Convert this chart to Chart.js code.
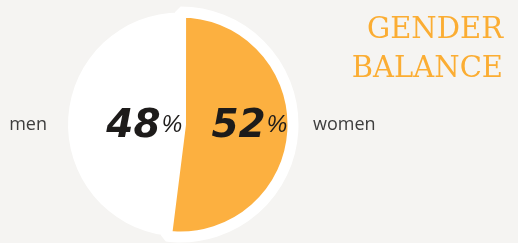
<!DOCTYPE html>
<html>
<head>
<meta charset="utf-8">
<script src="https://cdn.jsdelivr.net/npm/chart.js@4"></script>
<style>
  html, body { margin: 0; padding: 0; background: #f5f4f2; }
  #wrap { position: relative; width: 518px; height: 243px; }
  #title {
    position: absolute; right: 15px; top: 9px;
    font-family: "DejaVu Serif"; font-size: 29px; line-height: 39px;
    color: #fbad33; text-align: right;
  }
</style>
</head>
<body>
<div id="wrap">
  <canvas id="genderChart" width="518" height="243"></canvas>
  <div id="title">GENDER<br>BALANCE</div>
</div>
<script>
const categories = ['men', 'women'];
const shares = [48, 52];
const sliceColors = ['#ffffff', '#fcb040'];

// where the big numbers sit, as a fraction of the radius from the centre
const numberPos = [0.32, 0.62];

const sliceLabels = {
  id: 'sliceLabels',
  afterDatasetsDraw(chart) {
    const c = chart.ctx;
    const arcs = chart.getDatasetMeta(0).data;
    arcs.forEach(function (arc, i) {
      const p = arc.getProps(['x', 'y', 'startAngle', 'endAngle', 'outerRadius'], true);
      const mid = (p.startAngle + p.endAngle) / 2;
      const cx = p.x + Math.cos(mid) * p.outerRadius * numberPos[i];

      const num = String(shares[i]);
      const numFont = 'italic bold 39px "DejaVu Sans"';
      const pctFont = 'italic 23px "Liberation Sans"';
      c.save();
      c.font = numFont;
      const w1 = c.measureText(num).width;
      c.font = pctFont;
      const w2 = c.measureText('%').width;
      let sx = cx - (w1 + w2 + 1) / 2;
      c.fillStyle = '#1d1b1a';
      c.textAlign = 'left';
      c.textBaseline = 'alphabetic';
      c.font = numFont;
      c.fillText(num, sx, p.y + 12.5);
      c.font = pctFont;
      c.fillText('%', sx + w1 + 1, p.y + 7.5);

      // category name beside the pie
      const side = Math.cos(mid) < 0 ? -1 : 1;
      c.font = '18px "Open Sans"';
      c.fillStyle = '#3d3d3d';
      c.textAlign = side < 0 ? 'right' : 'left';
      c.fillText(categories[i], p.x + side * (p.outerRadius + 21), p.y + 5);
      c.restore();
    });
  }
};

var ctx = document.getElementById('genderChart');
var genderChart = new Chart(ctx, {
  type: 'pie',
  data: {
    labels: categories,
    datasets: [{
      data: shares,
      backgroundColor: sliceColors,
      borderColor: '#ffffff',
      borderWidth: [0, 11],
      offset: [0, 2]
    }]
  },
  options: {
    responsive: false,
    animation: false,
    events: [],
    // men runs up to 12 o'clock, women starts there
    rotation: -360 * shares[0] / 100,
    radius: 112,
    layout: { padding: { left: 0, right: 158, top: 6, bottom: 0 } },
    plugins: {
      legend: { display: false },
      tooltip: { enabled: false }
    }
  },
  plugins: [sliceLabels]
});
</script>
</body>
</html>
